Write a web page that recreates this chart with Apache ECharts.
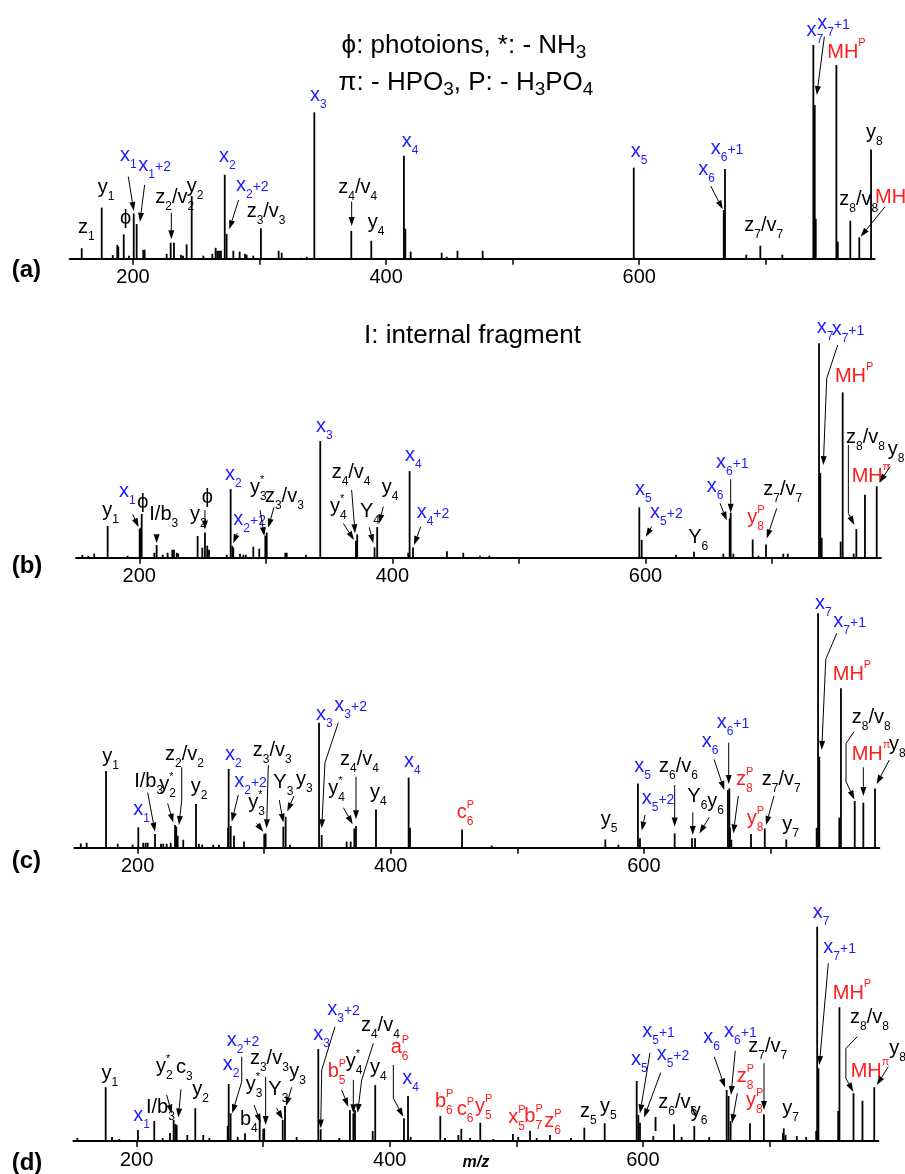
<!DOCTYPE html>
<html>
<head>
<meta charset="utf-8">
<script src="https://cdn.jsdelivr.net/npm/echarts@6/dist/echarts.min.js"></script>
<style>
html,body{margin:0;padding:0;background:#fff}
#chart{width:905px;height:1174px}
</style>
</head>
<body>
<div id="chart"></div>
<script>
// peaks: [m/z, relative intensity %] per spectrum
var peaksA = [[159.5,4.9],[175.3,23.9],[184.0,1.7],[187.6,6.4],[188.4,5.6],[192.7,11.4],[196.8,1.4],[200.6,21.2],[202.9,16.2],[208.1,4.1],[209.2,4.2],[226.6,2.3],[229.8,7.5],[232.4,7.5],[237.9,1.9],[239.5,1.4],[242.4,6.7],[246.4,29.3],[255.6,1.4],[262.7,2.3],[265.3,5.1],[266.6,3.7],[268.0,3.7],[269.5,3.7],[272.5,39.3],[274.0,11.6],[279.3,3.7],[284.3,3.3],[288.5,2.3],[289.8,1.9],[295.1,1.4],[301.1,14.2],[315.1,3.7],[317.5,2.8],[332.8,0.5],[337.3,0.9],[343.3,68.5],[372.5,13.0],[388.3,8.4],[414.1,48.2],[415.2,14.0],[419.4,3.3],[443.9,2.8],[447.9,0.9],[456.4,3.7],[476.3,3.7],[595.7,42.6],[666.8,22.8],[667.8,42.0],[684.6,1.9],[695.7,6.1],[713.1,1.9],[737.6,100],[738.7,71.9],[739.5,18.7],[755.8,90.6],[756.9,8.0],[766.8,17.8],[773.9,10.0],[783.2,51.1]];
var peaksB = [[155.0,1.3],[159.7,0.9],[164.4,1.9],[175.0,14.8],[190.8,0.9],[200.3,13.5],[201.1,14.0],[201.9,20.4],[211.9,2.3],[213.7,5.9],[218.5,1.4],[222.4,2.3],[226.1,3.7],[227.4,3.7],[229.6,2.3],[230.8,1.9],[246.1,10.1],[249.8,4.7],[251.9,11.8],[253.7,5.6],[255.1,3.7],[269.1,1.4],[272.2,32.0],[273.5,5.5],[274.3,4.7],[279.6,1.9],[282.2,1.4],[284.1,1.4],[290.1,5.1],[294.8,4.2],[299.6,10.3],[300.7,11.7],[315.4,2.3],[316.5,2.3],[331.7,1.4],[343.0,54.4],[371.2,7.9],[372.2,10.9],[385.9,4.8],[388.0,14.3],[412.5,2.3],[413.6,40.4],[416.3,4.7],[443.1,3.0],[456.0,2.3],[469.2,0.9],[476.6,0.9],[595.1,23.5],[597.0,8.3],[624.1,1.4],[638.3,2.8],[661.5,1.9],[666.5,18.3],[667.3,21.0],[669.4,1.9],[684.7,8.5],[689.2,0.9],[695.2,6.2],[708.9,1.9],[712.4,1.9],[737.1,100],[738.1,39.6],[739.2,9.3],[754.2,7.5],[755.8,77.1],[764.5,1.9],[766.6,13.4],[773.4,29.4],[782.7,33.3]];
var peaksC = [[155.0,1.8],[159.7,2.1],[175.0,32.7],[184.2,1.7],[196.0,1.3],[200.5,8.7],[204.4,2.1],[206.3,2.1],[207.9,2.1],[213.7,5.8],[218.4,1.7],[220.2,1.7],[222.9,1.7],[226.1,2.1],[229.5,9.7],[230.5,9.0],[231.6,5.1],[236.0,3.4],[246.1,18.6],[248.4,1.7],[251.0,1.3],[259.7,1.3],[264.2,1.3],[271.4,8.5],[271.9,33.6],[273.5,9.3],[276.1,5.1],[284.0,2.6],[300.0,5.8],[301.1,6.1],[315.1,9.0],[316.9,13.2],[320.3,1.3],[343.3,53.3],[345.4,5.4],[365.1,2.6],[368.3,2.6],[371.2,8.2],[372.5,9.3],[388.3,16.3],[414.1,29.9],[415.2,8.5],[456.3,7.8],[479.7,0.9],[569.5,3.5],[579.8,1.3],[595.3,27.4],[596.9,4.0],[624.3,6.1],[638.0,4.0],[640.4,4.0],[666.4,24.6],[667.5,25.3],[668.0,8.5],[669.1,3.4],[684.6,5.8],[695.5,8.2],[712.5,3.5],[736.5,8.5],[737.6,100],[738.6,38.8],[754.4,12.8],[755.7,68.0],[766.6,19.9],[773.4,19.2],[782.6,25.3]];
var peaksD = [[153.1,1.4],[175.5,25.1],[180.5,1.9],[186.3,0.9],[201.0,5.1],[213.9,9.3],[220.5,1.4],[226.3,3.7],[229.2,9.8],[230.5,7.9],[231.6,7.5],[240.0,2.8],[246.3,15.3],[252.6,2.8],[257.4,1.4],[271.9,7.0],[272.7,26.6],[274.2,12.9],[279.8,1.9],[285.6,3.6],[297.2,10.1],[300.0,5.6],[300.8,5.9],[315.4,9.8],[317.2,16.3],[326.4,1.9],[343.5,42.9],[345.4,5.5],[360.1,1.4],[368.5,14.5],[371.2,12.9],[372.5,14.5],[386.5,4.7],[388.5,26.1],[411.2,10.6],[414.4,21.0],[416.5,1.9],[439.9,11.7],[443.6,1.4],[454.2,2.8],[456.5,5.7],[463.4,1.4],[471.5,8.5],[481.8,0.9],[497.3,3.3],[501.5,1.9],[510.8,4.8],[516.1,1.4],[526.6,2.8],[543.2,1.4],[553.7,6.2],[569.8,8.3],[595.1,28.0],[596.4,12.1],[597.7,8.5],[608.2,2.3],[624.6,7.8],[630.6,1.9],[640.6,7.0],[652.4,1.9],[666.2,23.8],[667.7,21.0],[669.3,9.3],[684.6,8.3],[695.6,12.5],[710.6,3.7],[711.3,5.9],[712.7,2.8],[721.6,2.3],[729.0,1.9],[736.9,4.7],[737.7,100],[738.7,33.9],[754.3,14.0],[755.3,62.4],[766.4,22.3],[773.5,18.8],[782.8,25.1]];

// ion labels: [text, kind, m/z, level]  kind n = plain, x = x-ion, p = phosphate loss
var labelsA = [['z_1','n',156.5,11.9],['y_1','n',172.1,30.7],['ϕ','n',189.7,16.2],['x_1','x',189.7,45.7],['x_1~{+2}','x',204.2,41.0],['z_2/v_2','n',217.6,25.9],['y_2','n',242.4,31.2],['x_2','x',268.0,45.4],['x_2~{+2}','x',281.4,31.7],['z_3/v_3','n',289.8,19.7],['x_3','x',339.9,73.9],['z_4/v_4','n',362.2,30.6],['y_4','n',385.5,14.2],['x_4','x',412.3,52.1],['x_5','x',593.3,47.7],['x_6','x',646.7,39.2],['x_6~{+1}','x',656.5,49.0],['z_7/v_7','n',683.1,13.1],['x_7','x',732.2,104.2],['x_7~{+1}','x',740.7,107.5],['MH^P','p',748.6,93.8],['y_8','n',779.2,56.3],['z_8/v_8','n',758.1,25.1],['MH^π','p',786.3,25.9]];
var labelsB = [['y_1','n',170.8,19.4],['x_1','x',184.0,28.5],['ϕ','n',198.4,23.2],['I/b_3','n',207.9,17.6],['y_2','n',240.1,17.6],['ϕ','n',249.3,25.4],['x_2','x',267.7,36.2],['x_2~{+2}','x',274.3,15.3],['y_3^*','n',287.5,30.0],['z_3/v_3','n',299.3,26.1],['x_3','x',339.6,58.8],['z_4/v_4','n',352.0,37.0],['y_4^*','n',350.7,21.3],['Y_4','n',374.4,19.1],['y_4','n',391.5,30.0],['x_4','x',410.0,45.2],['x_4~{+2}','x',419.2,18.4],['x_5','x',591.7,29.2],['x_5~{+2}','x',603.6,18.4],['Y_6','n',633.8,6.7],['x_6','x',648.4,30.8],['x_6~{+1}','x',655.7,41.7],['y_8^P','p',680.4,16.2],['z_7/v_7','n',693.1,29.2],['x_7','x',735.3,104.9],['x_7~{+1}','x',747.1,103.9],['MH^P','p',749.7,82.1],['z_8/v_8','n',758.4,53.4],['MH^π','p',762.9,35.4],['y_8','n',791.4,47.9]];
var labelsC = [['y_1','n',172.0,36.6],['x_1','x',196.5,13.9],['I/b_3','n',197.3,26.0],['y_2^*','n',217.1,24.6],['z_2/v_2','n',221.6,37.4],['y_2','n',241.9,23.8],['x_2','x',269.0,37.4],['x_2~{+2}','x',276.3,26.0],['y_3^*','n',287.4,16.8],['z_3/v_3','n',290.9,39.2],['Y_3','n',307.2,25.3],['y_3','n',325.1,26.9],['x_3','x',340.9,54.5],['x_3~{+2}','x',355.4,58.3],['z_4/v_4','n',359.9,35.3],['y_4^*','n',350.6,22.9],['y_4','n',383.6,21.2],['x_4','x',410.4,34.6],['c_6^P','p',452.1,12.5],['y_5','n',565.9,9.7],['x_5','x',592.4,32.4],['x_5~{+2}','x',598.3,18.6],['z_6/v_6','n',611.9,32.4],['Y_6','n',634.3,19.6],['y_6','n',650.1,17.4],['x_6','x',645.7,43.1],['x_6~{+1}','x',657.5,50.9],['z_8^P','p',672.8,26.7],['y_8^P','p',681.2,10.2],['z_7/v_7','n',693.1,26.7],['y_7','n',709.4,7.7],['x_7','x',735.2,101.7],['x_7~{+1}','x',749.7,94.0],['MH^P','p',749.2,71.5],['z_8/v_8','n',764.2,53.1],['MH^π','p',764.2,37.4],['y_8','n',793.7,41.7]];
var labelsD = [['y_1','n',172.3,29.1],['x_1','x',197.3,9.5],['I/b_3','n',207.3,12.9],['y_2^*','n',215.3,32.2],['c_3','n',231.1,31.6],['y_2','n',243.9,21.5],['x_2','x',268.0,33.1],['x_2~{+2}','x',271.1,44.5],['b_4','n',281.6,7.5],['y_3^*','n',286.1,23.8],['z_3/v_3','n',289.5,35.9],['Y_3','n',304.0,21.5],['y_3','n',320.6,29.9],['x_3','x',339.5,47.1],['x_3~{+2}','x',350.6,58.8],['b_5^P','p',350.9,30.0],['y_4^*','n',365.2,34.5],['z_4/v_4','n',377.2,51.5],['y_4','n',384.4,31.7],['a_6^P','p',400.7,40.9],['x_4','x',409.9,26.6],['b_6^P','p',435.7,16.0],['c_6^P','p',452.9,12.1],['y_5^P','p',467.3,13.5],['x_5^P','p',493.6,8.5],['b_7^P','p',506.3,9.0],['z_6^P','p',522.1,6.4],['z_5','n',550.3,11.3],['y_5','n',566.1,13.5],['x_5~{+1}','x',599.5,48.7],['x_5','x',590.6,35.5],['x_5~{+2}','x',610.9,37.8],['I','n',607.7,4.7],['z_6/v_6','n',612.2,15.3],['y_6','n',637.8,11.2],['x_6','x',647.7,45.6],['x_6~{+1}','x',664.1,48.7],['z_8^P','p',674.1,27.7],['y_8^P','p',681.5,16.3],['z_7/v_7','n',683.3,41.7],['y_7','n',710.2,12.7],['x_7','x',734.2,103.9],['x_7~{+1}','x',742.6,87.6],['MH^P','p',750.0,66.1],['z_8/v_8','n',763.7,54.9],['MH^π','p',764.2,30.0],['y_8','n',794.7,40.7]];

// annotation arrows: list of [m/z, level] points, last one is the tip
var arrowsA = [[[196.3,38.4],[200.6,22.3]],[[209.2,34.5],[205.5,17.3]],[[230.3,21.5],[230.3,9.1]],[[283.5,27.5],[276.1,13.8]],[[372.8,26.7],[372.8,15.3]],[[656.5,34.0],[666.0,23.1]],[[746.3,103.9],[740.3,76.6]],[[794.2,24.3],[775.0,10.3]]];
var arrowsB = [[[194.8,20.2],[199.5,14.2]],[[213.7,10.9],[213.7,6.7]],[[251.9,22.2],[251.9,13.2]],[[277.4,11.4],[274.3,6.7]],[[295.4,22.2],[298.8,10.1]],[[306.4,23.5],[301.9,14.0]],[[367.8,31.6],[370.5,11.4]],[[361.2,16.0],[369.7,8.3]],[[381.7,14.2],[384.9,6.7]],[[392.8,23.8],[389.6,16.0]],[[422.4,14.5],[417.1,5.9]],[[604.9,14.5],[600.2,9.8]],[[658.9,25.4],[664.2,17.3]],[[667.3,36.6],[667.3,21.0]],[[703.7,23.0],[695.8,9.0]],[[751.9,99.2],[743.2,83.7],[740.5,43.2]],[[760.3,52.6],[760.3,20.7],[765.0,15.3]],[[793.2,42.4],[784.8,35.0]]];
var arrowsC = [[[207.9,23.5],[213.7,6.8]],[[223.7,18.9],[228.1,10.7]],[[234.8,34.3],[234.8,20.3],[232.6,9.7]],[[279.5,22.5],[274.3,11.1]],[[294.0,10.4],[299.2,6.8]],[[303.2,35.3],[301.9,8.3]],[[311.9,20.3],[315.1,10.7]],[[323.5,22.1],[318.2,15.4]],[[358.5,53.3],[348.0,36.3],[345.4,8.3]],[[372.5,30.3],[372.5,12.1]],[[362.5,17.1],[369.9,10.0]],[[600.9,14.0],[598.3,7.3]],[[624.3,26.7],[624.3,9.0]],[[638.6,15.1],[638.6,5.4]],[[651.7,13.0],[643.8,6.1]],[[655.4,37.7],[663.5,24.6]],[[667.0,44.8],[667.0,27.2]],[[674.6,22.1],[670.6,6.1]],[[702.8,22.1],[696.5,9.7]],[[752.4,91.5],[743.7,80.4],[740.5,41.7]],[[766.0,49.5],[759.7,44.5],[759.7,28.2],[766.3,20.6]],[[773.4,34.3],[773.4,22.1]],[[793.9,37.4],[783.9,27.2]]];
var arrowsD = [[[223.7,21.5],[227.7,12.8]],[[235.0,24.1],[232.9,11.0]],[[283.0,39.3],[283.0,27.7],[275.5,12.9]],[[292.7,16.8],[298.0,8.5]],[[301.9,30.0],[301.9,7.5]],[[310.6,15.3],[315.4,10.1]],[[322.5,25.1],[318.0,16.3]],[[356.7,53.3],[346.2,33.1],[345.4,5.9]],[[362.0,23.8],[367.2,16.0]],[[371.2,28.5],[371.2,12.9]],[[387.0,45.6],[377.8,28.5],[374.6,13.2]],[[402.8,35.5],[402.8,19.9],[410.7,11.3]],[[605.6,41.2],[597.7,12.9]],[[614.1,31.9],[600.9,11.0]],[[656.4,39.3],[664.9,25.0]],[[673.0,42.1],[669.6,21.5]],[[674.6,22.3],[670.4,8.3]],[[695.7,36.3],[695.7,14.5]],[[746.5,82.9],[739.4,35.5]],[[769.4,48.7],[760.4,43.2],[760.4,29.3],[766.2,23.0]],[[793.9,34.7],[784.8,26.1]]];

var tickValues = [200, 300, 400, 500, 600, 700];
var tickLabels = [200, 400, 600];
var panelNames = ['(a)', '(b)', '(c)', '(d)'];

var NARROW = '"Liberation Sans Narrow", "Liberation Sans", Arial, sans-serif';
var REGULAR = '"Liberation Sans", Arial, sans-serif';
var COLORS = {n: '#000000', x: '#1c1cff', p: '#ff1c1c'};
var LABEL_ST = {family: NARROW, main: 20, sub: 12, sup: 11, sm: 14, subDy: 7, supDy: -12, stackDy: -10};
var TITLE_ST = {family: REGULAR, main: 26, sub: 19, sup: 16, sm: 20, subDy: 5, supDy: -12, stackDy: -10};

var ctx = document.createElement('canvas').getContext('2d');
var offCache = {};
function fontStr(size, family, weight) { return (weight ? weight + ' ' : '') + size + 'px ' + family; }
function measure(t, f) { ctx.font = f; return ctx.measureText(t).width; }
// distance between canvas 'middle' line and alphabetic baseline
function midOff(f, size) {
  if (offCache[f] == null) {
    ctx.font = f;
    ctx.textBaseline = 'alphabetic';
    var a = ctx.measureText('x').fontBoundingBoxAscent;
    ctx.textBaseline = 'middle';
    var m = ctx.measureText('x').fontBoundingBoxAscent;
    ctx.textBaseline = 'alphabetic';
    offCache[f] = (typeof a === 'number' && typeof m === 'number') ? (a - m) : 0.35 * size;
  }
  return offCache[f];
}

function parseMarkup(s) {
  var out = [], buf = '', i = 0;
  while (i < s.length) {
    var ch = s[i];
    if (ch === '_' || ch === '^' || ch === '~') {
      if (buf) { out.push({k: 'm', s: buf}); buf = ''; }
      var t;
      if (s[i + 1] === '{') { var j = s.indexOf('}', i + 2); t = s.slice(i + 2, j); i = j + 1; }
      else { t = s[i + 1]; i += 2; }
      out.push({k: ch === '_' ? 'sub' : (ch === '^' ? 'sup' : 'sm'), s: t});
    } else { buf += ch; i++; }
  }
  if (buf) out.push({k: 'm', s: buf});
  return out;
}

function layoutText(markup, x, y, fill, st, weight) {
  var toks = parseMarkup(markup), els = [], cx = x;
  function put(t, size, by) {
    var f = fontStr(size, st.family, weight);
    els.push({type: 'text', style: {text: t, x: cx, y: by - midOff(f, size), font: f, fill: fill,
      align: 'left', verticalAlign: 'middle', textAlign: 'left', textVerticalAlign: 'middle'}});
    return measure(t, f);
  }
  for (var i = 0; i < toks.length; i++) {
    var t = toks[i];
    if (t.k === 'm') { cx += put(t.s, st.main, y); continue; }
    if (t.k === 'sm') { cx += put(t.s, st.sm, y); continue; }
    var nx = toks[i + 1];
    var stacked = nx && (nx.k === 'sub' || nx.k === 'sup') && nx.k !== t.k;
    var x0 = cx;
    var w1 = put(t.s, t.k === 'sub' ? st.sub : st.sup, y + (t.k === 'sub' ? st.subDy : (stacked ? st.stackDy : st.supDy)));
    if (stacked) {
      cx = x0;
      var w2 = put(nx.s, nx.k === 'sub' ? st.sub : st.sup, y + (nx.k === 'sub' ? st.subDy : st.stackDy));
      cx = x0 + Math.max(w1, w2);
      i++;
    } else {
      cx = x0 + w1;
    }
  }
  return {els: els, width: cx - x};
}

function peakItem(params, api) {
  var p0 = api.coord([api.value(0), 0]);
  var p1 = api.coord([api.value(0), api.value(1)]);
  return {type: 'line', shape: {x1: p0[0], y1: p0[1], x2: p1[0], y2: p1[1]},
    style: {stroke: '#000', lineWidth: 1.8}};
}
function labelItem(list) {
  return function (params, api) {
    var it = list[params.dataIndex];
    var p = api.coord([it[2], it[3]]);
    return {type: 'group', children: layoutText(it[0], p[0], p[1], COLORS[it[1]], LABEL_ST).els};
  };
}
function arrowItem(list) {
  return function (params, api) {
    var pts = list[params.dataIndex].map(function (q) { return api.coord(q); });
    var n = pts.length, a = pts[n - 2], b = pts[n - 1];
    var dx = b[0] - a[0], dy = b[1] - a[1], L = Math.sqrt(dx * dx + dy * dy) || 1;
    var ux = dx / L, uy = dy / L, hl = 9, hw = 3;
    var base = [b[0] - ux * hl, b[1] - uy * hl];
    return {type: 'group', children: [
      {type: 'polyline', shape: {points: pts.slice(0, n - 1).concat([base])}, style: {stroke: '#000', lineWidth: 1, fill: null}},
      {type: 'polygon', shape: {points: [b, [base[0] - uy * hw, base[1] + ux * hw], [base[0] + uy * hw, base[1] - ux * hw]]}, style: {fill: '#000'}}
    ]};
  };
}

var panels = [
  {peaks: peaksA, labels: labelsA, arrows: arrowsA, left: 69.7, right: 30.4, top: 45, height: 213.7, tag: 277},
  {peaks: peaksB, labels: labelsB, arrows: arrowsB, left: 76.0, right: 24.1, top: 343.3, height: 214.4, tag: 573},
  {peaks: peaksC, labels: labelsC, arrows: arrowsC, left: 74.4, right: 25.7, top: 613.3, height: 234.4, tag: 868},
  {peaks: peaksD, labels: labelsD, arrows: arrowsD, left: 73.4, right: 26.7, top: 926.7, height: 214.3, tag: 1170}
];

var grids = [], xAxes = [], yAxes = [], series = [], graphics = [];
panels.forEach(function (p, i) {
  grids.push({left: p.left, right: p.right, top: p.top, height: p.height, containLabel: false, outerBoundsMode: 'none'});
  xAxes.push({
    gridIndex: i, type: 'value', min: 150, max: 786,
    axisLine: {lineStyle: {color: '#000', width: 2}},
    axisTick: {customValues: tickValues, length: 6, lineStyle: {color: '#000', width: 1.5}},
    axisLabel: {customValues: tickLabels, color: '#000', fontSize: 20, fontFamily: NARROW, margin: 9},
    splitLine: {show: false},
    name: i === 3 ? 'm/z' : '', nameLocation: 'middle', nameGap: 14, nameMoveOverlap: false,
    nameTextStyle: {fontStyle: 'italic', fontWeight: 'bold', fontSize: 16, fontFamily: REGULAR, color: '#000'}
  });
  yAxes.push({gridIndex: i, type: 'value', min: 0, max: 100, show: false});
  series.push({type: 'custom', xAxisIndex: i, yAxisIndex: i, clip: false, renderItem: peakItem, data: p.peaks, z: 2});
  series.push({type: 'custom', xAxisIndex: i, yAxisIndex: i, clip: false, renderItem: labelItem(p.labels),
    data: p.labels.map(function (l) { return [l[2], l[3]]; }), z: 3});
  series.push({type: 'custom', xAxisIndex: i, yAxisIndex: i, clip: false, renderItem: arrowItem(p.arrows),
    data: p.arrows.map(function (a) { return a[0]; }), z: 4});
  graphics.push({type: 'group', children: layoutText(panelNames[i], 11.7, p.tag, '#000', {family: REGULAR, main: 24}, 'bold').els});
});

function centered(markup, cx, y, st) {
  var w = layoutText(markup, 0, y, '#000', st).width;
  return {type: 'group', children: layoutText(markup, cx - w / 2, y, '#000', st).els};
}
graphics.push(centered('ϕ: photoions, *: - NH_3', 464, 53.3, TITLE_ST));
graphics.push(centered('π: - HPO_3, P: - H_3PO_4', 466, 90, TITLE_ST));
graphics.push(centered('I: internal fragment', 472.5, 343.3, TITLE_ST));

var chart = echarts.init(document.getElementById('chart'), null, {renderer: 'canvas'});
chart.setOption({
  animation: false,
  backgroundColor: '#fff',
  grid: grids,
  xAxis: xAxes,
  yAxis: yAxes,
  series: series,
  graphic: graphics
});
</script>
</body>
</html>
